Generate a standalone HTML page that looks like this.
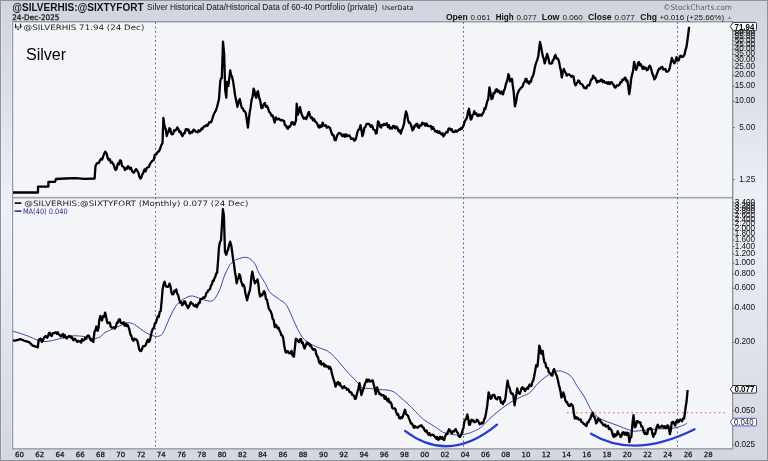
<!DOCTYPE html>
<html><head><meta charset="utf-8"><title>StockCharts</title>
<style>html,body{margin:0;padding:0;background:#dcdfe7;width:768px;height:461px;overflow:hidden}svg{display:block}</style>
</head><body>
<svg width="768" height="461" viewBox="0 0 768 461"><defs><linearGradient id="bg" x1="0" y1="0" x2="0" y2="1"><stop offset="0" stop-color="#d0d4de"/><stop offset="0.22" stop-color="#dde0e8"/><stop offset="0.44" stop-color="#eef0f7"/><stop offset="0.66" stop-color="#e3e7ef"/><stop offset="0.88" stop-color="#d8dce4"/><stop offset="1" stop-color="#d3d7e0"/></linearGradient></defs>
<rect x="0" y="0" width="768" height="461" fill="url(#bg)"/>
<rect x="0.5" y="0.5" width="767" height="460" fill="none" stroke="#8e939b" stroke-width="1"/>
<rect x="1" y="1" width="1" height="459" fill="#fff" fill-opacity="0.25"/><rect x="11" y="22" width="1" height="427" fill="#fff" fill-opacity="0.3"/>
<rect x="12" y="21" width="721" height="429" fill="#f4f5f9"/>
<rect x="12" y="21" width="721" height="1" fill="#979ba5"/>
<rect x="13" y="22" width="719" height="1" fill="#c8cbd3"/>
<rect x="12" y="21" width="1" height="429" fill="#9498a3"/>
<rect x="13" y="22" width="1" height="426" fill="#e0e3e8"/>
<rect x="732" y="21" width="1" height="429" fill="#8d919b"/>
<rect x="733" y="21" width="1" height="429" fill="#c5c9d1"/>
<rect x="12" y="448" width="721" height="1" fill="#a0a4ad"/>
<rect x="12" y="449" width="722" height="1" fill="#b5b9c2"/>
<rect x="13" y="196" width="719" height="1" fill="#e6e8ee"/>
<rect x="13" y="197" width="719" height="1" fill="#a3a6ae"/>
<rect x="13" y="198" width="719" height="1" fill="#c8cbd2"/>
<line x1="155.5" y1="22" x2="155.5" y2="448" stroke="#6060a6" stroke-width="1" stroke-dasharray="1.8,2.7"/>
<line x1="463.5" y1="22" x2="463.5" y2="448" stroke="#6060a6" stroke-width="1" stroke-dasharray="1.8,2.7"/>
<line x1="677.5" y1="22" x2="677.5" y2="448" stroke="#6060a6" stroke-width="1" stroke-dasharray="1.8,2.7"/>
<line x1="567" y1="412.6" x2="727" y2="412.6" stroke="#e27a82" stroke-width="1.2" stroke-dasharray="1.6,3"/>
<path d="M13.0,331.3 C14.2,331.6 17.7,332.5 20.4,333.4 C23.1,334.3 26.2,335.4 29.1,336.5 C32.0,337.6 35.2,339.4 37.8,340.3 C40.4,341.2 42.1,341.6 44.7,341.6 C47.3,341.6 50.5,340.9 53.4,340.3 C56.3,339.7 59.1,338.8 62.0,338.1 C64.9,337.4 67.9,336.4 70.8,336.0 C73.7,335.6 76.5,335.8 79.4,336.0 C82.3,336.2 85.8,336.8 88.1,337.2 C90.4,337.6 91.3,338.7 93.3,338.6 C95.3,338.6 98.3,337.9 100.3,336.9 C102.2,335.9 102.6,333.9 105.0,332.5 C107.4,331.1 111.5,329.7 114.8,328.2 C118.0,326.7 122.1,324.6 124.5,323.7 C126.9,322.8 127.4,322.4 129.4,322.7 C131.4,323.0 133.9,324.2 136.3,325.7 C138.8,327.2 141.5,329.9 144.1,331.5 C146.7,333.1 149.6,334.6 151.9,335.4 C154.2,336.2 155.9,336.7 157.7,336.4 C159.5,336.1 161.0,335.8 162.6,333.5 C164.2,331.2 165.9,326.3 167.5,322.7 C169.1,319.1 170.8,315.1 172.4,312.0 C174.0,308.9 175.5,306.3 177.3,304.2 C179.1,302.1 180.8,300.7 183.1,299.3 C185.4,297.9 188.6,296.3 190.9,296.0 C193.2,295.7 194.4,296.6 196.8,297.3 C199.2,298.0 202.7,299.8 205.4,300.3 C208.1,300.8 210.8,302.1 213.2,300.3 C215.6,298.6 218.0,293.5 219.7,289.8 C221.4,286.1 222.1,282.0 223.6,278.1 C225.1,274.2 227.2,269.3 228.9,266.4 C230.7,263.5 232.4,262.0 234.1,260.7 C235.8,259.4 237.6,259.2 239.3,258.6 C241.0,258.0 242.8,257.3 244.5,257.3 C246.2,257.3 248.0,257.5 249.7,258.6 C251.4,259.7 253.4,261.4 254.9,263.8 C256.4,266.2 257.1,269.6 258.8,272.9 C260.5,276.1 263.4,280.1 265.3,283.3 C267.2,286.6 267.6,289.7 270.0,292.4 C272.4,295.1 276.7,297.3 279.5,299.5 C282.3,301.7 284.3,301.9 286.7,305.5 C289.1,309.1 291.5,316.0 293.9,321.0 C296.3,326.0 298.6,331.7 301.0,335.3 C303.4,338.9 305.4,340.5 308.2,342.5 C311.0,344.5 314.5,345.9 317.7,347.3 C320.9,348.7 324.5,349.3 327.3,350.9 C330.1,352.5 332.0,354.4 334.4,356.8 C336.8,359.2 339.2,362.4 341.6,365.2 C344.0,368.0 346.4,370.9 348.8,373.5 C351.2,376.1 353.7,378.4 355.9,380.7 C358.1,383.0 359.5,386.1 361.9,387.4 C364.2,388.7 367.5,388.2 370.0,388.5 C372.5,388.8 373.6,389.0 376.7,389.3 C379.8,389.6 385.5,389.8 388.4,390.3 C391.3,390.8 392.3,391.1 394.3,392.2 C396.3,393.3 397.9,395.1 400.2,397.1 C402.5,399.1 405.4,401.6 408.0,404.0 C410.6,406.4 413.2,409.2 415.8,411.8 C418.4,414.4 421.0,417.5 423.6,419.6 C426.2,421.7 429.1,423.0 431.4,424.5 C433.7,426.0 435.4,427.1 437.3,428.4 C439.2,429.7 440.8,431.3 443.1,432.3 C445.4,433.3 448.3,433.7 450.9,434.2 C453.5,434.7 456.9,435.1 458.8,435.2 C460.7,435.3 460.1,435.2 462.0,434.8 C463.9,434.4 467.3,433.9 470.4,432.7 C473.5,431.5 477.8,429.7 480.8,427.5 C483.8,425.3 485.6,422.5 488.6,419.7 C491.6,416.9 495.1,413.6 499.0,410.6 C502.9,407.6 508.1,403.9 512.0,401.5 C515.9,399.1 519.4,397.8 522.4,396.3 C525.4,394.8 527.6,394.6 530.2,392.4 C532.8,390.2 535.4,385.9 538.0,383.3 C540.6,380.7 543.4,378.5 545.8,376.8 C548.2,375.1 550.1,373.9 552.3,372.9 C554.5,371.9 556.8,370.9 558.8,370.8 C560.8,370.7 562.3,371.5 564.0,372.1 C565.7,372.7 567.4,373.5 568.9,374.6 C570.4,375.7 571.5,376.7 572.8,378.5 C574.1,380.3 575.4,383.3 576.7,385.4 C578.0,387.5 579.3,389.2 580.6,391.2 C581.9,393.1 583.2,394.8 584.5,397.1 C585.8,399.4 587.1,402.5 588.4,404.9 C589.7,407.3 590.8,409.8 592.3,411.7 C593.8,413.6 595.2,415.1 597.2,416.6 C599.2,418.1 601.6,419.4 604.0,420.5 C606.4,421.6 609.2,422.4 611.8,423.4 C614.4,424.4 617.0,425.3 619.6,426.3 C622.2,427.3 625.1,428.5 627.4,429.3 C629.7,430.1 631.3,430.9 633.3,431.2 C635.2,431.4 636.8,431.0 639.1,430.8 C641.5,430.6 644.6,430.2 647.4,429.9 C650.2,429.6 653.1,429.2 656.0,429.0 C658.9,428.8 661.8,428.8 664.7,428.7 C667.6,428.6 670.8,428.6 673.4,428.2 C676.0,427.8 678.4,427.0 680.3,426.4 C682.2,425.8 683.5,425.3 684.7,424.7 C685.9,424.1 686.9,423.0 687.3,422.6" fill="none" stroke="#4646a2" stroke-width="1" stroke-linejoin="round"/>
<path d="M13.0,192.5 L38.0,192.5 L38.0,186.6 L48.4,186.6 L48.4,181.9 L55.0,181.9 L56.0,179.0 L65.0,178.5 L75.0,178.2 L85.0,178.8 L94.6,178.5 L95.5,166.0 L96.8,163.4 L98.0,163.0 L99.0,162.8 L100.0,160.3 L101.0,158.9 L102.0,159.6 L103.0,157.0 L104.1,153.8 L105.2,151.7 L106.1,152.8 L107.0,154.9 L107.8,158.4 L108.7,160.0 L109.8,159.1 L110.9,162.7 L112.0,162.0 L112.9,163.7 L113.8,164.9 L114.7,168.2 L115.6,170.0 L116.7,168.5 L117.8,163.5 L118.9,164.4 L120.0,160.3 L121.0,160.8 L122.0,165.9 L123.0,166.5 L124.0,167.5 L125.0,170.0 L125.9,168.2 L126.8,168.9 L127.7,166.5 L128.6,166.4 L129.7,169.0 L130.9,167.7 L132.0,170.8 L133.1,172.5 L134.1,172.6 L135.2,170.3 L136.2,169.1 L137.3,170.8 L138.3,172.3 L139.3,176.5 L140.3,178.6 L141.3,177.7 L142.4,174.2 L143.4,172.5 L144.5,169.4 L145.6,171.4 L146.6,168.2 L147.7,167.3 L148.8,167.2 L149.8,164.5 L150.9,162.5 L152.0,161.2 L152.9,160.4 L153.8,159.9 L154.7,154.8 L155.6,155.0 L156.7,153.8 L157.8,151.7 L158.9,151.4 L160.0,149.0 L161.2,145.6 L162.5,143.0 L163.4,117.8 L164.2,124.2 L165.0,127.4 L165.9,130.0 L166.8,136.0 L167.7,132.6 L168.5,131.8 L169.4,128.2 L170.3,129.1 L171.1,133.5 L172.0,134.3 L173.1,133.9 L174.1,130.2 L175.2,130.8 L176.2,129.8 L177.3,127.4 L178.3,128.9 L179.4,132.0 L180.4,131.4 L181.5,134.6 L182.5,136.0 L183.6,133.3 L184.7,133.3 L185.7,129.4 L186.8,129.0 L187.7,130.4 L188.6,129.5 L189.4,133.2 L190.3,133.4 L191.4,131.8 L192.4,132.4 L193.5,129.7 L194.6,130.0 L195.6,131.6 L196.6,131.8 L197.6,132.3 L198.6,130.2 L199.6,131.4 L200.5,130.7 L201.5,128.5 L202.5,129.0 L203.4,127.1 L204.4,126.2 L205.4,126.4 L206.3,125.0 L207.3,125.8 L208.2,124.5 L209.2,122.2 L210.1,122.2 L211.1,122.3 L212.0,119.8 L212.9,116.9 L213.9,114.0 L214.9,112.2 L215.8,110.7 L216.9,107.5 L217.9,103.5 L219.0,99.0 L220.3,80.8 L221.1,78.5 L221.8,78.0 L223.0,41.7 L224.2,54.7 L225.2,90.0 L226.3,97.7 L227.0,82.0 L228.3,86.0 L229.2,79.1 L230.2,70.4 L231.1,75.1 L232.1,77.1 L233.1,81.3 L234.0,87.3 L235.1,95.5 L236.3,100.9 L237.4,106.8 L238.6,101.4 L239.8,99.0 L240.9,104.5 L241.9,108.0 L242.9,108.6 L243.9,111.0 L244.8,111.3 L245.8,113.3 L246.9,120.2 L247.9,127.7 L248.8,119.8 L249.6,112.9 L250.5,108.0 L251.5,100.4 L252.6,96.5 L253.6,88.6 L254.5,91.0 L255.3,95.7 L256.2,97.7 L257.1,92.7 L258.0,91.2 L259.1,97.5 L260.3,100.8 L261.4,108.0 L262.5,107.8 L263.7,104.2 L264.8,103.0 L265.9,106.8 L267.0,106.0 L268.1,108.3 L269.2,112.0 L270.3,112.9 L271.5,115.8 L272.6,115.4 L273.6,118.4 L274.6,122.6 L275.9,117.3 L276.9,119.3 L277.8,119.3 L278.8,118.6 L279.9,119.6 L280.9,120.5 L282.0,120.0 L283.0,120.6 L284.0,120.8 L284.9,125.2 L285.9,125.3 L286.9,127.8 L287.8,128.8 L288.6,126.6 L289.5,127.1 L290.5,125.6 L291.5,122.6 L292.6,122.1 L293.6,124.7 L294.7,124.5 L296.0,120.0 L296.7,103.7 L298.0,114.7 L299.0,110.4 L300.0,107.0 L300.9,112.0 L301.9,114.7 L302.8,116.8 L303.6,118.5 L304.5,118.6 L305.4,117.4 L306.2,119.1 L307.1,117.3 L308.1,113.3 L309.0,112.0 L310.0,115.6 L311.0,118.0 L312.0,117.5 L313.0,120.5 L314.0,118.9 L315.0,121.3 L316.1,122.2 L317.1,123.3 L318.2,126.5 L319.1,127.6 L319.9,125.4 L320.8,127.1 L321.8,126.5 L322.7,122.6 L323.7,125.5 L324.7,125.8 L325.7,125.1 L326.8,127.7 L327.8,126.6 L328.9,127.1 L329.9,127.8 L330.8,130.6 L331.6,133.1 L332.5,135.0 L333.6,135.2 L334.7,140.0 L335.8,140.1 L336.9,136.2 L337.9,134.2 L339.0,133.0 L340.0,133.5 L340.9,133.6 L341.9,135.8 L342.9,136.2 L343.9,134.4 L345.0,136.7 L346.0,134.3 L347.1,136.2 L348.1,135.6 L349.1,135.2 L350.1,136.4 L351.0,138.8 L352.0,138.8 L353.1,138.4 L354.2,140.7 L355.3,140.1 L356.2,137.4 L357.2,133.0 L358.3,129.9 L359.4,129.2 L360.5,125.2 L361.4,129.7 L362.4,136.2 L363.4,133.2 L364.4,127.8 L365.5,126.9 L366.6,123.8 L367.7,123.9 L368.9,123.8 L370.0,125.8 L370.8,126.9 L371.5,125.2 L372.4,126.1 L373.2,129.3 L374.1,129.7 L375.0,130.2 L375.8,133.6 L376.7,133.0 L378.0,121.3 L379.0,122.6 L380.0,126.5 L381.0,127.6 L381.9,125.0 L382.9,125.4 L383.9,124.0 L384.8,125.1 L385.8,123.9 L386.8,123.2 L387.9,127.2 L388.9,125.1 L390.0,128.6 L391.0,127.8 L392.1,128.6 L393.1,125.9 L394.2,126.2 L395.2,128.5 L396.3,126.5 L397.4,127.7 L398.6,131.4 L399.7,130.1 L400.8,133.6 L401.9,129.8 L402.9,127.7 L404.0,123.9 L405.0,116.4 L406.0,111.5 L407.0,114.1 L408.0,120.0 L409.0,122.9 L410.0,122.6 L411.2,125.6 L412.5,130.4 L413.5,129.1 L414.4,125.6 L415.4,126.3 L416.4,123.9 L417.3,123.9 L418.1,127.2 L419.0,127.8 L420.1,125.1 L421.2,125.5 L422.3,122.6 L423.3,124.1 L424.4,123.5 L425.4,125.8 L426.5,123.5 L427.5,125.8 L428.6,126.0 L429.7,126.1 L430.8,126.0 L431.8,129.2 L432.9,127.0 L434.0,129.0 L435.1,131.2 L436.2,131.8 L437.2,130.9 L438.3,132.8 L439.4,131.5 L440.5,133.6 L441.5,134.4 L442.4,133.1 L443.4,136.3 L444.4,135.0 L445.4,133.3 L446.5,131.9 L447.5,132.4 L448.6,128.6 L449.6,128.4 L450.6,130.0 L451.7,129.2 L452.7,131.7 L453.8,132.1 L454.8,131.7 L455.8,130.5 L456.9,131.7 L457.9,130.8 L459.0,129.5 L460.0,129.7 L460.9,128.1 L461.8,128.8 L462.7,127.1 L463.6,125.5 L464.8,121.1 L466.0,119.5 L467.0,117.5 L468.0,111.7 L469.0,108.8 L469.9,114.5 L470.7,119.5 L471.6,118.8 L472.5,114.8 L473.4,114.6 L474.3,111.1 L475.2,113.7 L476.1,113.1 L477.0,115.3 L477.9,116.0 L478.9,114.4 L479.8,115.6 L480.8,114.7 L481.7,115.6 L482.7,113.5 L483.6,112.2 L484.5,108.2 L485.4,109.0 L486.3,105.2 L487.2,101.5 L488.2,99.2 L489.4,87.3 L490.4,92.3 L491.5,99.2 L492.6,98.2 L493.6,93.0 L494.7,93.1 L495.8,89.7 L496.7,89.3 L497.6,91.9 L498.5,90.4 L499.4,92.0 L500.3,93.5 L501.2,91.5 L502.1,93.4 L503.0,94.4 L503.9,90.2 L504.8,89.2 L505.6,85.2 L506.5,82.5 L507.4,80.0 L508.4,74.2 L509.2,76.2 L510.1,81.3 L511.1,80.5 L512.0,78.9 L512.9,86.6 L513.7,92.0 L514.9,106.4 L516.1,101.7 L517.3,94.4 L518.2,92.2 L519.2,89.9 L520.1,89.2 L521.1,87.7 L522.0,87.3 L522.9,85.5 L523.8,82.6 L524.7,82.0 L525.6,78.9 L526.5,79.0 L527.4,82.5 L528.3,81.6 L529.2,83.7 L530.1,81.1 L531.0,81.7 L531.9,77.5 L532.8,76.5 L533.8,73.2 L534.9,67.2 L535.9,63.4 L537.1,60.4 L538.3,56.3 L539.1,49.5 L540.0,41.9 L541.0,46.2 L541.9,51.5 L542.8,55.9 L543.8,59.0 L544.7,63.4 L545.9,59.0 L547.1,53.9 L548.3,57.7 L549.5,63.4 L550.7,63.6 L551.9,63.4 L552.8,60.4 L553.7,59.5 L554.6,56.3 L555.5,55.0 L556.6,58.7 L557.8,58.6 L558.9,61.0 L559.9,66.4 L560.9,70.8 L561.8,77.6 L562.8,72.4 L563.8,68.8 L564.8,71.4 L565.7,72.8 L566.7,75.7 L567.7,74.4 L568.6,74.4 L569.6,74.7 L570.6,75.8 L571.6,76.9 L572.6,75.8 L573.6,76.6 L574.5,82.8 L575.5,85.4 L576.5,83.6 L577.4,82.5 L578.4,80.5 L579.4,81.2 L580.3,83.7 L581.3,84.0 L582.3,84.5 L583.3,86.4 L584.3,88.1 L585.3,87.7 L586.3,88.4 L587.3,85.8 L588.2,85.1 L589.2,85.5 L590.2,82.5 L591.2,79.4 L592.1,79.3 L593.1,75.7 L594.1,77.9 L595.0,77.7 L596.0,79.7 L597.0,82.5 L598.0,81.0 L599.0,81.6 L599.9,81.3 L600.9,79.6 L601.9,79.9 L602.8,82.2 L603.8,81.0 L604.8,82.5 L605.8,82.9 L606.8,82.3 L607.8,83.9 L608.7,82.1 L609.7,84.0 L610.7,82.5 L611.7,82.1 L612.7,84.0 L613.6,84.8 L614.6,87.4 L615.6,87.6 L616.6,85.4 L617.5,85.3 L618.5,85.5 L619.5,84.5 L620.5,82.1 L621.4,82.4 L622.4,79.7 L623.3,80.0 L624.3,78.6 L625.3,77.5 L626.3,81.0 L627.3,80.5 L628.2,85.9 L629.2,94.2 L630.2,87.9 L631.2,78.6 L632.2,74.2 L633.1,70.8 L634.1,62.0 L635.1,66.2 L636.1,69.8 L637.1,67.6 L638.0,62.9 L639.0,62.0 L640.0,65.3 L640.9,64.3 L641.9,66.9 L642.8,69.0 L643.7,66.8 L644.6,68.6 L645.7,67.8 L646.8,70.2 L647.8,69.8 L648.9,66.8 L649.9,65.6 L651.0,68.2 L652.2,73.2 L653.3,75.7 L654.4,79.3 L655.5,77.9 L656.7,74.7 L657.9,71.3 L659.0,68.6 L660.1,68.8 L661.3,67.1 L662.3,66.8 L663.3,69.5 L664.3,69.4 L665.3,69.0 L666.4,71.7 L667.4,71.7 L668.5,70.9 L669.6,68.6 L670.8,63.0 L671.9,58.0 L673.0,61.1 L674.2,63.3 L675.4,61.6 L676.5,57.2 L677.6,60.5 L678.8,60.3 L679.9,56.3 L681.0,55.7 L682.1,57.0 L683.3,56.5 L684.5,54.7 L685.6,49.6 L686.4,47.2 L687.1,42.8 L688.3,33.7 L689.1,26.8" fill="none" stroke="#000" stroke-width="2.3" stroke-linejoin="round"/>
<path d="M13.0,340.3 L15.2,340.7 L20.4,339.1 L25.6,341.2 L29.1,342.1 L32.6,345.6 L35.2,346.4 L37.8,347.3 L38.6,340.3 L39.7,338.9 L40.8,338.6 L41.9,342.0 L43.0,340.3 L43.9,337.7 L44.7,336.9 L45.6,335.9 L46.4,337.1 L47.3,337.7 L48.1,335.9 L49.0,333.0 L49.9,332.9 L50.8,335.5 L51.7,336.0 L52.8,333.2 L54.0,333.2 L55.1,332.5 L56.0,332.5 L56.9,333.8 L57.7,332.3 L58.6,334.3 L59.7,335.1 L60.9,336.4 L62.0,335.1 L62.9,333.9 L63.8,337.4 L64.7,335.0 L65.6,337.2 L66.7,338.5 L67.9,337.1 L69.0,336.0 L69.9,336.2 L70.8,337.6 L71.6,336.8 L72.5,338.6 L73.4,340.3 L74.2,338.8 L75.1,338.9 L76.0,340.3 L77.1,341.7 L78.3,340.9 L79.4,341.7 L80.3,341.1 L81.2,342.6 L82.0,339.2 L82.9,340.3 L84.0,340.4 L85.1,337.9 L86.2,338.8 L87.3,336.0 L88.2,335.5 L89.0,336.0 L89.9,338.6 L91.0,340.5 L92.2,339.4 L93.3,342.0 L94.5,331.7 L95.4,330.5 L96.3,326.5 L97.7,330.8 L98.6,327.4 L99.4,319.2 L100.3,316.0 L101.2,318.9 L102.0,320.4 L103.0,316.1 L104.1,316.9 L105.1,312.6 L106.2,317.0 L107.2,322.7 L108.1,323.2 L109.0,322.3 L109.9,322.7 L110.8,326.9 L111.8,327.6 L112.8,327.7 L113.8,327.2 L114.8,328.6 L115.8,327.0 L116.8,322.7 L117.7,322.9 L118.7,319.8 L119.7,319.1 L120.7,322.7 L121.6,323.1 L122.6,323.7 L123.6,322.2 L124.6,325.6 L125.5,323.4 L126.5,326.1 L127.5,324.7 L128.5,327.0 L129.4,329.7 L130.4,334.5 L131.4,336.0 L132.3,339.3 L133.3,340.7 L134.3,338.6 L135.3,339.7 L136.3,339.3 L137.3,340.8 L138.2,344.6 L139.2,349.1 L140.1,350.8 L141.1,351.0 L142.1,348.8 L143.1,346.2 L144.1,346.2 L145.1,346.0 L146.0,344.2 L147.0,341.3 L148.0,339.6 L148.9,342.0 L149.9,340.3 L150.9,335.4 L151.9,331.2 L152.9,328.6 L153.9,328.1 L154.9,323.1 L155.8,323.1 L156.8,319.8 L157.8,316.3 L158.8,316.9 L159.7,311.7 L160.7,311.0 L161.6,301.5 L162.6,289.5 L163.6,284.1 L164.6,281.7 L165.6,285.7 L166.5,286.6 L167.5,286.9 L168.5,286.4 L169.5,283.7 L170.5,286.2 L171.4,292.4 L172.4,294.4 L173.4,294.1 L174.4,290.6 L175.3,291.2 L176.3,289.5 L177.3,293.9 L178.2,295.2 L179.2,299.3 L180.2,302.7 L181.1,301.9 L182.1,305.2 L183.1,304.4 L184.1,301.4 L185.1,301.3 L186.1,304.9 L187.0,305.6 L188.0,308.1 L189.0,306.7 L189.9,303.8 L190.9,302.2 L191.9,303.7 L192.9,303.9 L193.8,305.9 L194.8,306.1 L195.7,304.8 L196.7,307.3 L197.6,305.5 L198.6,303.0 L199.6,303.1 L200.5,299.1 L201.5,299.0 L202.5,298.6 L203.4,297.3 L204.4,297.8 L205.4,296.4 L206.4,293.0 L207.4,292.2 L208.3,290.2 L209.3,289.8 L210.2,288.5 L211.0,285.2 L211.9,284.6 L212.8,280.7 L213.6,281.0 L214.5,278.1 L215.4,276.6 L216.2,273.5 L217.1,272.9 L218.1,260.3 L219.0,246.9 L220.0,242.0 L221.0,240.4 L221.9,225.6 L222.9,209.1 L223.9,215.6 L225.0,252.0 L226.3,254.7 L227.2,251.4 L228.1,249.5 L229.1,244.8 L230.2,241.7 L231.2,245.2 L232.2,252.0 L233.1,259.2 L234.1,265.1 L235.0,272.2 L235.8,276.5 L236.7,283.3 L237.6,279.3 L238.4,278.2 L239.3,274.2 L240.2,276.0 L241.0,280.9 L241.9,283.3 L242.8,286.1 L243.6,284.8 L244.5,287.2 L245.4,293.3 L246.2,296.5 L247.1,300.3 L248.0,296.8 L248.8,293.5 L249.7,291.1 L250.6,285.6 L251.4,276.9 L252.3,271.6 L253.2,275.9 L254.0,280.1 L254.9,283.3 L255.8,281.3 L256.6,281.7 L257.5,279.4 L258.4,284.3 L259.2,291.9 L260.1,296.4 L261.1,294.5 L262.1,295.4 L263.0,293.5 L264.0,291.1 L265.0,292.9 L265.9,298.8 L266.9,299.7 L267.9,304.2 L268.9,308.9 L270.0,310.3 L270.9,311.8 L271.8,314.5 L272.7,319.0 L273.6,319.8 L274.8,327.0 L275.8,324.9 L276.7,325.8 L277.6,328.3 L278.6,327.6 L279.5,330.6 L280.4,331.9 L281.3,335.2 L282.2,335.2 L283.1,337.7 L284.3,346.0 L285.5,352.0 L286.4,352.6 L287.3,351.1 L288.2,351.6 L289.1,353.2 L290.3,353.4 L291.5,350.9 L292.7,355.6 L293.9,356.8 L294.9,347.6 L295.8,338.9 L297.0,339.5 L298.2,341.3 L299.1,342.2 L300.1,339.3 L301.0,338.9 L301.9,343.0 L302.8,342.5 L303.7,346.6 L304.6,348.5 L305.8,345.2 L307.0,342.5 L307.9,343.9 L308.8,343.4 L309.7,345.7 L310.6,344.9 L311.8,347.7 L313.0,349.7 L314.1,349.0 L315.3,349.7 L316.2,353.7 L317.1,356.4 L318.0,357.3 L318.9,361.6 L319.8,363.4 L320.7,361.1 L321.6,364.6 L322.5,364.0 L323.5,363.4 L324.4,366.4 L325.4,365.0 L326.3,366.7 L327.3,366.4 L328.2,366.5 L329.1,368.8 L330.0,366.9 L330.9,368.8 L332.0,373.9 L333.2,378.3 L334.4,381.9 L335.6,386.7 L336.8,383.3 L338.0,381.9 L338.9,384.6 L339.8,382.9 L340.7,385.9 L341.6,386.7 L342.5,388.3 L343.4,386.9 L344.3,386.3 L345.2,387.9 L346.1,388.1 L347.0,389.8 L347.9,388.9 L348.8,390.2 L349.7,392.2 L350.6,392.2 L351.4,392.6 L352.3,395.0 L353.2,395.0 L354.1,395.8 L355.0,398.8 L355.9,398.6 L357.1,393.0 L358.3,389.0 L359.5,383.1 L360.4,389.3 L361.4,395.0 L362.6,391.2 L363.8,387.9 L364.8,384.1 L365.7,382.1 L366.7,379.5 L367.8,381.6 L368.8,379.6 L369.8,381.4 L370.9,381.5 L371.9,380.5 L372.8,380.5 L373.8,385.2 L374.8,388.3 L375.7,394.2 L377.1,387.3 L378.4,391.2 L379.6,394.2 L380.6,393.9 L381.6,395.5 L382.6,395.2 L383.6,395.2 L384.6,398.8 L385.5,396.4 L386.5,399.1 L387.5,401.1 L388.4,398.8 L389.4,402.5 L390.4,402.0 L391.4,403.7 L392.3,407.9 L393.3,408.7 L394.3,408.3 L395.3,408.8 L396.2,412.1 L397.2,414.7 L398.2,414.2 L399.2,418.0 L400.2,418.6 L401.2,417.0 L402.1,418.0 L403.1,415.7 L404.1,412.2 L405.0,409.8 L406.0,414.0 L407.0,414.7 L408.0,415.7 L408.9,418.4 L409.9,420.5 L410.9,423.6 L411.9,423.5 L412.9,425.4 L413.9,427.9 L414.8,426.0 L415.8,427.4 L416.8,427.4 L417.7,427.7 L418.7,426.4 L419.7,426.4 L420.6,425.5 L421.6,425.4 L422.6,427.3 L423.6,427.8 L424.6,430.3 L425.6,431.5 L426.5,430.5 L427.5,433.2 L428.5,434.7 L429.4,433.1 L430.4,435.4 L431.4,435.2 L432.4,434.6 L433.4,435.0 L434.3,436.1 L435.3,437.1 L436.3,438.7 L437.2,437.0 L438.2,439.8 L439.2,439.1 L440.2,436.8 L441.1,438.7 L442.1,437.1 L443.1,439.2 L444.1,440.1 L445.1,436.5 L446.1,434.2 L447.1,434.0 L448.0,431.6 L449.0,429.3 L450.0,430.3 L450.9,432.2 L451.9,433.2 L452.9,431.1 L453.9,431.5 L454.8,430.0 L455.8,429.3 L456.8,431.9 L457.8,432.8 L458.7,435.9 L459.7,437.1 L460.7,435.9 L461.6,433.7 L462.6,430.1 L463.5,427.8 L464.3,421.7 L465.2,419.7 L466.2,418.8 L467.3,414.5 L468.2,418.4 L469.1,424.9 L470.0,424.7 L470.8,421.0 L471.7,419.7 L472.6,421.0 L473.4,420.2 L474.3,422.3 L475.2,421.7 L476.0,421.7 L476.9,419.7 L477.9,420.4 L478.9,422.4 L479.8,424.3 L480.8,423.6 L481.7,422.6 L482.5,423.5 L483.4,422.3 L484.3,419.0 L485.1,417.8 L486.0,413.2 L487.3,405.4 L488.6,392.4 L489.6,395.3 L490.7,398.9 L491.6,398.1 L492.4,395.4 L493.3,395.0 L494.3,394.8 L495.4,398.3 L496.4,398.9 L497.3,399.4 L498.1,397.1 L499.0,397.6 L500.0,397.5 L500.9,402.6 L501.9,402.1 L502.9,404.1 L503.8,401.1 L504.6,401.5 L505.5,397.6 L506.6,388.0 L507.6,380.7 L508.6,386.2 L509.7,388.0 L510.7,392.4 L511.6,393.8 L512.4,393.4 L513.3,395.0 L514.6,405.4 L515.5,399.2 L516.3,394.7 L517.2,388.5 L518.1,391.8 L518.9,393.2 L519.8,393.7 L520.7,391.1 L521.5,388.4 L522.4,387.2 L523.3,389.0 L524.1,388.5 L525.0,391.1 L526.0,389.3 L527.0,387.8 L527.9,388.8 L528.9,385.9 L529.8,384.4 L530.6,386.1 L531.5,385.9 L532.4,381.7 L533.2,380.7 L534.1,376.8 L535.2,370.7 L536.2,365.1 L537.5,366.4 L538.4,356.8 L539.3,345.6 L540.2,348.2 L541.1,353.4 L541.9,353.9 L542.7,350.8 L543.6,358.3 L544.5,362.5 L545.4,363.0 L546.2,367.4 L547.1,367.7 L548.0,368.3 L548.8,372.2 L549.7,372.9 L550.6,373.4 L551.4,375.4 L552.3,375.5 L553.2,370.8 L554.1,369.0 L555.0,371.9 L555.8,374.0 L556.7,375.5 L557.8,379.7 L558.8,384.6 L559.7,387.7 L560.5,391.6 L561.4,397.6 L562.3,396.5 L563.3,392.4 L564.3,395.1 L565.3,400.2 L566.1,402.1 L567.0,402.0 L568.0,404.5 L568.9,405.9 L569.9,406.0 L570.9,403.9 L571.8,404.7 L572.8,405.9 L573.8,412.7 L574.8,418.5 L575.8,416.9 L576.7,418.5 L577.7,417.7 L578.6,419.5 L579.6,419.5 L580.6,419.4 L581.6,422.2 L582.6,422.4 L583.6,423.9 L584.5,423.8 L585.5,425.4 L586.5,426.0 L587.4,422.2 L588.4,422.4 L589.4,419.6 L590.3,419.0 L591.3,415.6 L592.7,412.7 L593.5,416.3 L594.3,416.6 L595.2,419.1 L596.2,423.4 L597.2,422.0 L598.2,418.5 L599.2,420.5 L600.1,419.9 L601.1,422.4 L602.1,422.9 L603.0,424.8 L604.0,425.4 L605.0,424.5 L606.0,426.5 L607.0,426.3 L608.0,425.7 L608.9,429.0 L609.9,428.3 L610.9,429.6 L611.8,431.1 L612.8,435.1 L613.8,437.0 L614.7,434.1 L615.7,436.1 L616.7,435.0 L617.7,431.2 L618.7,434.1 L619.6,434.6 L620.6,437.1 L621.6,435.8 L622.5,432.6 L623.5,432.2 L624.5,434.6 L625.5,432.6 L626.5,435.1 L627.5,432.8 L628.4,433.2 L629.4,442.0 L630.3,437.8 L631.3,437.1 L632.6,422.1 L633.5,415.1 L634.9,427.3 L635.9,426.0 L636.9,421.2 L637.8,421.1 L638.6,422.3 L639.5,422.1 L640.4,422.6 L641.3,426.4 L642.2,426.4 L643.0,428.6 L643.9,432.5 L644.8,433.9 L645.6,432.5 L646.5,434.2 L647.4,433.8 L648.2,429.0 L649.1,429.0 L650.0,428.3 L650.8,428.2 L651.7,429.7 L652.5,434.3 L653.4,436.8 L654.3,433.7 L655.1,433.9 L656.0,429.9 L656.9,426.6 L657.8,424.7 L658.7,426.9 L659.5,427.6 L660.4,427.3 L661.3,426.3 L662.1,425.7 L663.0,426.4 L663.9,427.9 L664.7,426.3 L665.6,428.2 L666.5,428.0 L667.3,425.5 L668.2,425.6 L669.0,428.8 L669.9,434.2 L670.8,430.3 L671.7,423.0 L672.5,421.8 L673.4,422.1 L674.2,423.6 L675.1,425.6 L676.0,422.2 L676.9,420.3 L677.8,421.8 L678.6,422.1 L679.5,420.0 L680.3,419.5 L681.2,420.6 L682.1,421.2 L683.2,418.1 L684.2,418.6 L685.6,407.3 L686.6,401.3 L687.6,390.0" fill="none" stroke="#000" stroke-width="2.3" stroke-linejoin="round"/>
<path d="M405,430.8 Q449,464.5 497,424.7" fill="none" stroke="#2b3bd2" stroke-width="2.2" stroke-linecap="round"/>
<path d="M591,433.7 Q634,459.5 694.6,429.2" fill="none" stroke="#2b3bd2" stroke-width="2.2" stroke-linecap="round"/>
<line x1="732" y1="31.0" x2="735" y2="31.0" stroke="#6c7078" stroke-width="0.8"/>
<text x="755.2" y="33.0" text-anchor="end" font-family="'Liberation Sans', Arial, sans-serif" font-size="8.2" fill="#111">65.00</text>
<line x1="732" y1="34.1" x2="735" y2="34.1" stroke="#6c7078" stroke-width="0.8"/>
<text x="755.2" y="36.1" text-anchor="end" font-family="'Liberation Sans', Arial, sans-serif" font-size="8.2" fill="#111">60.00</text>
<line x1="732" y1="37.3" x2="735" y2="37.3" stroke="#6c7078" stroke-width="0.8"/>
<text x="755.2" y="39.3" text-anchor="end" font-family="'Liberation Sans', Arial, sans-serif" font-size="8.2" fill="#111">55.00</text>
<line x1="732" y1="40.9" x2="735" y2="40.9" stroke="#6c7078" stroke-width="0.8"/>
<text x="755.2" y="42.9" text-anchor="end" font-family="'Liberation Sans', Arial, sans-serif" font-size="8.2" fill="#111">50.00</text>
<line x1="732" y1="44.9" x2="735" y2="44.9" stroke="#6c7078" stroke-width="0.8"/>
<text x="755.2" y="46.9" text-anchor="end" font-family="'Liberation Sans', Arial, sans-serif" font-size="8.2" fill="#111">45.00</text>
<line x1="732" y1="49.3" x2="735" y2="49.3" stroke="#6c7078" stroke-width="0.8"/>
<text x="755.2" y="51.3" text-anchor="end" font-family="'Liberation Sans', Arial, sans-serif" font-size="8.2" fill="#111">40.00</text>
<line x1="732" y1="54.3" x2="735" y2="54.3" stroke="#6c7078" stroke-width="0.8"/>
<text x="755.2" y="56.3" text-anchor="end" font-family="'Liberation Sans', Arial, sans-serif" font-size="8.2" fill="#111">35.00</text>
<line x1="732" y1="60.1" x2="735" y2="60.1" stroke="#6c7078" stroke-width="0.8"/>
<text x="755.2" y="62.1" text-anchor="end" font-family="'Liberation Sans', Arial, sans-serif" font-size="8.2" fill="#111">30.00</text>
<line x1="732" y1="67.0" x2="735" y2="67.0" stroke="#6c7078" stroke-width="0.8"/>
<text x="755.2" y="69.0" text-anchor="end" font-family="'Liberation Sans', Arial, sans-serif" font-size="8.2" fill="#111">25.00</text>
<line x1="732" y1="75.4" x2="735" y2="75.4" stroke="#6c7078" stroke-width="0.8"/>
<text x="755.2" y="77.4" text-anchor="end" font-family="'Liberation Sans', Arial, sans-serif" font-size="8.2" fill="#111">20.00</text>
<line x1="732" y1="86.2" x2="735" y2="86.2" stroke="#6c7078" stroke-width="0.8"/>
<text x="755.2" y="88.2" text-anchor="end" font-family="'Liberation Sans', Arial, sans-serif" font-size="8.2" fill="#111">15.00</text>
<line x1="732" y1="101.4" x2="735" y2="101.4" stroke="#6c7078" stroke-width="0.8"/>
<text x="755.2" y="103.4" text-anchor="end" font-family="'Liberation Sans', Arial, sans-serif" font-size="8.2" fill="#111">10.00</text>
<line x1="732" y1="127.5" x2="735" y2="127.5" stroke="#6c7078" stroke-width="0.8"/>
<text x="755.2" y="129.5" text-anchor="end" font-family="'Liberation Sans', Arial, sans-serif" font-size="8.2" fill="#111">5.00</text>
<line x1="732" y1="179.6" x2="735" y2="179.6" stroke="#6c7078" stroke-width="0.8"/>
<text x="755.2" y="181.6" text-anchor="end" font-family="'Liberation Sans', Arial, sans-serif" font-size="8.2" fill="#111">1.25</text>
<line x1="732" y1="202.8" x2="735" y2="202.8" stroke="#6c7078" stroke-width="0.8"/>
<text x="755.2" y="204.8" text-anchor="end" font-family="'Liberation Sans', Arial, sans-serif" font-size="8.2" fill="#111">3.400</text>
<line x1="732" y1="205.8" x2="735" y2="205.8" stroke="#6c7078" stroke-width="0.8"/>
<text x="755.2" y="207.8" text-anchor="end" font-family="'Liberation Sans', Arial, sans-serif" font-size="8.2" fill="#111">3.200</text>
<line x1="732" y1="209.0" x2="735" y2="209.0" stroke="#6c7078" stroke-width="0.8"/>
<text x="755.2" y="211.0" text-anchor="end" font-family="'Liberation Sans', Arial, sans-serif" font-size="8.2" fill="#111">3.000</text>
<line x1="732" y1="212.4" x2="735" y2="212.4" stroke="#6c7078" stroke-width="0.8"/>
<text x="755.2" y="214.4" text-anchor="end" font-family="'Liberation Sans', Arial, sans-serif" font-size="8.2" fill="#111">2.800</text>
<line x1="732" y1="216.0" x2="735" y2="216.0" stroke="#6c7078" stroke-width="0.8"/>
<text x="755.2" y="218.0" text-anchor="end" font-family="'Liberation Sans', Arial, sans-serif" font-size="8.2" fill="#111">2.600</text>
<line x1="732" y1="220.0" x2="735" y2="220.0" stroke="#6c7078" stroke-width="0.8"/>
<text x="755.2" y="222.0" text-anchor="end" font-family="'Liberation Sans', Arial, sans-serif" font-size="8.2" fill="#111">2.400</text>
<line x1="732" y1="224.3" x2="735" y2="224.3" stroke="#6c7078" stroke-width="0.8"/>
<text x="755.2" y="226.3" text-anchor="end" font-family="'Liberation Sans', Arial, sans-serif" font-size="8.2" fill="#111">2.200</text>
<line x1="732" y1="229.0" x2="735" y2="229.0" stroke="#6c7078" stroke-width="0.8"/>
<text x="755.2" y="231.0" text-anchor="end" font-family="'Liberation Sans', Arial, sans-serif" font-size="8.2" fill="#111">2.000</text>
<line x1="732" y1="234.2" x2="735" y2="234.2" stroke="#6c7078" stroke-width="0.8"/>
<text x="755.2" y="236.2" text-anchor="end" font-family="'Liberation Sans', Arial, sans-serif" font-size="8.2" fill="#111">1.800</text>
<line x1="732" y1="240.0" x2="735" y2="240.0" stroke="#6c7078" stroke-width="0.8"/>
<text x="755.2" y="242.0" text-anchor="end" font-family="'Liberation Sans', Arial, sans-serif" font-size="8.2" fill="#111">1.600</text>
<line x1="732" y1="246.5" x2="735" y2="246.5" stroke="#6c7078" stroke-width="0.8"/>
<text x="755.2" y="248.5" text-anchor="end" font-family="'Liberation Sans', Arial, sans-serif" font-size="8.2" fill="#111">1.400</text>
<line x1="732" y1="254.1" x2="735" y2="254.1" stroke="#6c7078" stroke-width="0.8"/>
<text x="755.2" y="256.1" text-anchor="end" font-family="'Liberation Sans', Arial, sans-serif" font-size="8.2" fill="#111">1.200</text>
<line x1="732" y1="263.1" x2="735" y2="263.1" stroke="#6c7078" stroke-width="0.8"/>
<text x="755.2" y="265.1" text-anchor="end" font-family="'Liberation Sans', Arial, sans-serif" font-size="8.2" fill="#111">1.000</text>
<line x1="732" y1="274.1" x2="735" y2="274.1" stroke="#6c7078" stroke-width="0.8"/>
<text x="755.2" y="276.1" text-anchor="end" font-family="'Liberation Sans', Arial, sans-serif" font-size="8.2" fill="#111">0.800</text>
<line x1="732" y1="288.3" x2="735" y2="288.3" stroke="#6c7078" stroke-width="0.8"/>
<text x="755.2" y="290.3" text-anchor="end" font-family="'Liberation Sans', Arial, sans-serif" font-size="8.2" fill="#111">0.600</text>
<line x1="732" y1="308.2" x2="735" y2="308.2" stroke="#6c7078" stroke-width="0.8"/>
<text x="755.2" y="310.2" text-anchor="end" font-family="'Liberation Sans', Arial, sans-serif" font-size="8.2" fill="#111">0.400</text>
<line x1="732" y1="342.4" x2="735" y2="342.4" stroke="#6c7078" stroke-width="0.8"/>
<text x="755.2" y="344.4" text-anchor="end" font-family="'Liberation Sans', Arial, sans-serif" font-size="8.2" fill="#111">0.200</text>
<line x1="732" y1="410.6" x2="735" y2="410.6" stroke="#6c7078" stroke-width="0.8"/>
<text x="755.2" y="412.6" text-anchor="end" font-family="'Liberation Sans', Arial, sans-serif" font-size="8.2" fill="#111">0.050</text>
<line x1="732" y1="444.8" x2="735" y2="444.8" stroke="#6c7078" stroke-width="0.8"/>
<text x="755.2" y="446.8" text-anchor="end" font-family="'Liberation Sans', Arial, sans-serif" font-size="8.2" fill="#111">0.025</text>
<path d="M730.3,26.5 L733,22.4 L755.5,22.4 Q756.5,22.4 756.5,23.4 L756.5,29.6 Q756.5,30.6 755.5,30.6 L733,30.6 Z" fill="#fff" stroke="#333" stroke-width="1"/>
<text x="734.5" y="29.5" font-family="'Liberation Sans', Arial, sans-serif" font-size="8.6" font-weight="bold" fill="#000" textLength="19.8" lengthAdjust="spacingAndGlyphs">71.94</text>
<path d="M730.3,389.3 L733,385.5 L755.5,385.5 Q756.5,385.5 756.5,386.5 L756.5,392.1 Q756.5,393.1 755.5,393.1 L733,393.1 Z" fill="#fff" stroke="#333" stroke-width="1"/>
<text x="734.5" y="392.3" font-family="'Liberation Sans', Arial, sans-serif" font-size="8.6" font-weight="bold" fill="#000" textLength="19.8" lengthAdjust="spacingAndGlyphs">0.077</text>
<path d="M730.3,422.1 L733,418.3 L755.5,418.3 Q756.5,418.3 756.5,419.3 L756.5,424.9 Q756.5,425.9 755.5,425.9 L733,425.9 Z" fill="#fff" stroke="#5858b8" stroke-width="1"/>
<text x="733.9" y="425.1" font-family="'Liberation Sans', Arial, sans-serif" font-size="8.6" font-weight="normal" fill="#222" textLength="19.6" lengthAdjust="spacingAndGlyphs">0.040</text>
<line x1="19.5" y1="449.5" x2="19.5" y2="451.5" stroke="#9a9ea6" stroke-width="0.8"/>
<text x="19.5" y="457" text-anchor="middle" font-family="'DejaVu Sans', Verdana, sans-serif" font-size="7" fill="#111" stroke="#111" stroke-width="0.25">60</text>
<line x1="39.8" y1="449.5" x2="39.8" y2="451.5" stroke="#9a9ea6" stroke-width="0.8"/>
<text x="39.8" y="457" text-anchor="middle" font-family="'DejaVu Sans', Verdana, sans-serif" font-size="7" fill="#111" stroke="#111" stroke-width="0.25">62</text>
<line x1="60.0" y1="449.5" x2="60.0" y2="451.5" stroke="#9a9ea6" stroke-width="0.8"/>
<text x="60.0" y="457" text-anchor="middle" font-family="'DejaVu Sans', Verdana, sans-serif" font-size="7" fill="#111" stroke="#111" stroke-width="0.25">64</text>
<line x1="80.3" y1="449.5" x2="80.3" y2="451.5" stroke="#9a9ea6" stroke-width="0.8"/>
<text x="80.3" y="457" text-anchor="middle" font-family="'DejaVu Sans', Verdana, sans-serif" font-size="7" fill="#111" stroke="#111" stroke-width="0.25">66</text>
<line x1="100.5" y1="449.5" x2="100.5" y2="451.5" stroke="#9a9ea6" stroke-width="0.8"/>
<text x="100.5" y="457" text-anchor="middle" font-family="'DejaVu Sans', Verdana, sans-serif" font-size="7" fill="#111" stroke="#111" stroke-width="0.25">68</text>
<line x1="120.8" y1="449.5" x2="120.8" y2="451.5" stroke="#9a9ea6" stroke-width="0.8"/>
<text x="120.8" y="457" text-anchor="middle" font-family="'DejaVu Sans', Verdana, sans-serif" font-size="7" fill="#111" stroke="#111" stroke-width="0.25">70</text>
<line x1="141.1" y1="449.5" x2="141.1" y2="451.5" stroke="#9a9ea6" stroke-width="0.8"/>
<text x="141.1" y="457" text-anchor="middle" font-family="'DejaVu Sans', Verdana, sans-serif" font-size="7" fill="#111" stroke="#111" stroke-width="0.25">72</text>
<line x1="161.3" y1="449.5" x2="161.3" y2="451.5" stroke="#9a9ea6" stroke-width="0.8"/>
<text x="161.3" y="457" text-anchor="middle" font-family="'DejaVu Sans', Verdana, sans-serif" font-size="7" fill="#111" stroke="#111" stroke-width="0.25">74</text>
<line x1="181.6" y1="449.5" x2="181.6" y2="451.5" stroke="#9a9ea6" stroke-width="0.8"/>
<text x="181.6" y="457" text-anchor="middle" font-family="'DejaVu Sans', Verdana, sans-serif" font-size="7" fill="#111" stroke="#111" stroke-width="0.25">76</text>
<line x1="201.8" y1="449.5" x2="201.8" y2="451.5" stroke="#9a9ea6" stroke-width="0.8"/>
<text x="201.8" y="457" text-anchor="middle" font-family="'DejaVu Sans', Verdana, sans-serif" font-size="7" fill="#111" stroke="#111" stroke-width="0.25">78</text>
<line x1="222.1" y1="449.5" x2="222.1" y2="451.5" stroke="#9a9ea6" stroke-width="0.8"/>
<text x="222.1" y="457" text-anchor="middle" font-family="'DejaVu Sans', Verdana, sans-serif" font-size="7" fill="#111" stroke="#111" stroke-width="0.25">80</text>
<line x1="242.4" y1="449.5" x2="242.4" y2="451.5" stroke="#9a9ea6" stroke-width="0.8"/>
<text x="242.4" y="457" text-anchor="middle" font-family="'DejaVu Sans', Verdana, sans-serif" font-size="7" fill="#111" stroke="#111" stroke-width="0.25">82</text>
<line x1="262.6" y1="449.5" x2="262.6" y2="451.5" stroke="#9a9ea6" stroke-width="0.8"/>
<text x="262.6" y="457" text-anchor="middle" font-family="'DejaVu Sans', Verdana, sans-serif" font-size="7" fill="#111" stroke="#111" stroke-width="0.25">84</text>
<line x1="282.9" y1="449.5" x2="282.9" y2="451.5" stroke="#9a9ea6" stroke-width="0.8"/>
<text x="282.9" y="457" text-anchor="middle" font-family="'DejaVu Sans', Verdana, sans-serif" font-size="7" fill="#111" stroke="#111" stroke-width="0.25">86</text>
<line x1="303.1" y1="449.5" x2="303.1" y2="451.5" stroke="#9a9ea6" stroke-width="0.8"/>
<text x="303.1" y="457" text-anchor="middle" font-family="'DejaVu Sans', Verdana, sans-serif" font-size="7" fill="#111" stroke="#111" stroke-width="0.25">88</text>
<line x1="323.4" y1="449.5" x2="323.4" y2="451.5" stroke="#9a9ea6" stroke-width="0.8"/>
<text x="323.4" y="457" text-anchor="middle" font-family="'DejaVu Sans', Verdana, sans-serif" font-size="7" fill="#111" stroke="#111" stroke-width="0.25">90</text>
<line x1="343.7" y1="449.5" x2="343.7" y2="451.5" stroke="#9a9ea6" stroke-width="0.8"/>
<text x="343.7" y="457" text-anchor="middle" font-family="'DejaVu Sans', Verdana, sans-serif" font-size="7" fill="#111" stroke="#111" stroke-width="0.25">92</text>
<line x1="363.9" y1="449.5" x2="363.9" y2="451.5" stroke="#9a9ea6" stroke-width="0.8"/>
<text x="363.9" y="457" text-anchor="middle" font-family="'DejaVu Sans', Verdana, sans-serif" font-size="7" fill="#111" stroke="#111" stroke-width="0.25">94</text>
<line x1="384.2" y1="449.5" x2="384.2" y2="451.5" stroke="#9a9ea6" stroke-width="0.8"/>
<text x="384.2" y="457" text-anchor="middle" font-family="'DejaVu Sans', Verdana, sans-serif" font-size="7" fill="#111" stroke="#111" stroke-width="0.25">96</text>
<line x1="404.4" y1="449.5" x2="404.4" y2="451.5" stroke="#9a9ea6" stroke-width="0.8"/>
<text x="404.4" y="457" text-anchor="middle" font-family="'DejaVu Sans', Verdana, sans-serif" font-size="7" fill="#111" stroke="#111" stroke-width="0.25">98</text>
<line x1="424.7" y1="449.5" x2="424.7" y2="451.5" stroke="#9a9ea6" stroke-width="0.8"/>
<text x="424.7" y="457" text-anchor="middle" font-family="'DejaVu Sans', Verdana, sans-serif" font-size="7" fill="#111" stroke="#111" stroke-width="0.25">00</text>
<line x1="445.0" y1="449.5" x2="445.0" y2="451.5" stroke="#9a9ea6" stroke-width="0.8"/>
<text x="445.0" y="457" text-anchor="middle" font-family="'DejaVu Sans', Verdana, sans-serif" font-size="7" fill="#111" stroke="#111" stroke-width="0.25">02</text>
<line x1="465.2" y1="449.5" x2="465.2" y2="451.5" stroke="#9a9ea6" stroke-width="0.8"/>
<text x="465.2" y="457" text-anchor="middle" font-family="'DejaVu Sans', Verdana, sans-serif" font-size="7" fill="#111" stroke="#111" stroke-width="0.25">04</text>
<line x1="485.5" y1="449.5" x2="485.5" y2="451.5" stroke="#9a9ea6" stroke-width="0.8"/>
<text x="485.5" y="457" text-anchor="middle" font-family="'DejaVu Sans', Verdana, sans-serif" font-size="7" fill="#111" stroke="#111" stroke-width="0.25">06</text>
<line x1="505.7" y1="449.5" x2="505.7" y2="451.5" stroke="#9a9ea6" stroke-width="0.8"/>
<text x="505.7" y="457" text-anchor="middle" font-family="'DejaVu Sans', Verdana, sans-serif" font-size="7" fill="#111" stroke="#111" stroke-width="0.25">08</text>
<line x1="526.0" y1="449.5" x2="526.0" y2="451.5" stroke="#9a9ea6" stroke-width="0.8"/>
<text x="526.0" y="457" text-anchor="middle" font-family="'DejaVu Sans', Verdana, sans-serif" font-size="7" fill="#111" stroke="#111" stroke-width="0.25">10</text>
<line x1="546.3" y1="449.5" x2="546.3" y2="451.5" stroke="#9a9ea6" stroke-width="0.8"/>
<text x="546.3" y="457" text-anchor="middle" font-family="'DejaVu Sans', Verdana, sans-serif" font-size="7" fill="#111" stroke="#111" stroke-width="0.25">12</text>
<line x1="566.5" y1="449.5" x2="566.5" y2="451.5" stroke="#9a9ea6" stroke-width="0.8"/>
<text x="566.5" y="457" text-anchor="middle" font-family="'DejaVu Sans', Verdana, sans-serif" font-size="7" fill="#111" stroke="#111" stroke-width="0.25">14</text>
<line x1="586.8" y1="449.5" x2="586.8" y2="451.5" stroke="#9a9ea6" stroke-width="0.8"/>
<text x="586.8" y="457" text-anchor="middle" font-family="'DejaVu Sans', Verdana, sans-serif" font-size="7" fill="#111" stroke="#111" stroke-width="0.25">16</text>
<line x1="607.0" y1="449.5" x2="607.0" y2="451.5" stroke="#9a9ea6" stroke-width="0.8"/>
<text x="607.0" y="457" text-anchor="middle" font-family="'DejaVu Sans', Verdana, sans-serif" font-size="7" fill="#111" stroke="#111" stroke-width="0.25">18</text>
<line x1="627.3" y1="449.5" x2="627.3" y2="451.5" stroke="#9a9ea6" stroke-width="0.8"/>
<text x="627.3" y="457" text-anchor="middle" font-family="'DejaVu Sans', Verdana, sans-serif" font-size="7" fill="#111" stroke="#111" stroke-width="0.25">20</text>
<line x1="647.6" y1="449.5" x2="647.6" y2="451.5" stroke="#9a9ea6" stroke-width="0.8"/>
<text x="647.6" y="457" text-anchor="middle" font-family="'DejaVu Sans', Verdana, sans-serif" font-size="7" fill="#111" stroke="#111" stroke-width="0.25">22</text>
<line x1="667.8" y1="449.5" x2="667.8" y2="451.5" stroke="#9a9ea6" stroke-width="0.8"/>
<text x="667.8" y="457" text-anchor="middle" font-family="'DejaVu Sans', Verdana, sans-serif" font-size="7" fill="#111" stroke="#111" stroke-width="0.25">24</text>
<line x1="688.1" y1="449.5" x2="688.1" y2="451.5" stroke="#9a9ea6" stroke-width="0.8"/>
<text x="688.1" y="457" text-anchor="middle" font-family="'DejaVu Sans', Verdana, sans-serif" font-size="7" fill="#111" stroke="#111" stroke-width="0.25">26</text>
<line x1="708.3" y1="449.5" x2="708.3" y2="451.5" stroke="#9a9ea6" stroke-width="0.8"/>
<text x="708.3" y="457" text-anchor="middle" font-family="'DejaVu Sans', Verdana, sans-serif" font-size="7" fill="#111" stroke="#111" stroke-width="0.25">28</text>
<text x="12.2" y="10.5" font-family="'Liberation Sans', Arial, sans-serif" font-size="10.6" font-weight="bold" fill="#111" textLength="131.4" lengthAdjust="spacingAndGlyphs">@SILVERHIS:@SIXTYFORT</text>
<text x="147.1" y="10.2" font-family="'Liberation Sans', Arial, sans-serif" font-size="8.6" font-weight="normal" fill="#111" textLength="230.5" lengthAdjust="spacingAndGlyphs">Silver Historical Data/Historical Data of 60-40 Portfolio (private)</text>
<text x="382.1" y="9.8" font-family="'DejaVu Sans', Verdana, sans-serif" font-size="6.8" font-weight="normal" fill="#111" textLength="31.3" lengthAdjust="spacingAndGlyphs">UserData</text>
<text stroke="#111" stroke-width="0.25" x="12.2" y="19.9" font-family="'DejaVu Sans', Verdana, sans-serif" font-size="7.6" font-weight="normal" fill="#111" textLength="47.3" lengthAdjust="spacingAndGlyphs">24-Dec-2025</text>
<text x="663.3" y="9.8" font-family="'DejaVu Sans', Verdana, sans-serif" font-size="7.8" font-weight="normal" fill="#5e5e5e" textLength="68.6" lengthAdjust="spacingAndGlyphs">©StockCharts.com</text>
<text x="445.9" y="20.2" font-family="'Liberation Sans', Arial, sans-serif" font-size="8.7" font-weight="bold" fill="#111" textLength="21.9" lengthAdjust="spacingAndGlyphs">Open</text>
<text x="470.5" y="20.2" font-family="'Liberation Sans', Arial, sans-serif" font-size="8" font-weight="normal" fill="#111" textLength="19.8" lengthAdjust="spacingAndGlyphs">0.061</text>
<text x="495.8" y="20.2" font-family="'Liberation Sans', Arial, sans-serif" font-size="8.7" font-weight="bold" fill="#111" textLength="17.9" lengthAdjust="spacingAndGlyphs">High</text>
<text x="516.6" y="20.2" font-family="'Liberation Sans', Arial, sans-serif" font-size="8" font-weight="normal" fill="#111" textLength="20.0" lengthAdjust="spacingAndGlyphs">0.077</text>
<text x="541.8" y="20.2" font-family="'Liberation Sans', Arial, sans-serif" font-size="8.7" font-weight="bold" fill="#111" textLength="17.7" lengthAdjust="spacingAndGlyphs">Low</text>
<text x="562.6" y="20.2" font-family="'Liberation Sans', Arial, sans-serif" font-size="8" font-weight="normal" fill="#111" textLength="20.3" lengthAdjust="spacingAndGlyphs">0.060</text>
<text x="588.0" y="20.2" font-family="'Liberation Sans', Arial, sans-serif" font-size="8.7" font-weight="bold" fill="#111" textLength="23.7" lengthAdjust="spacingAndGlyphs">Close</text>
<text x="614.6" y="20.2" font-family="'Liberation Sans', Arial, sans-serif" font-size="8" font-weight="normal" fill="#111" textLength="20.3" lengthAdjust="spacingAndGlyphs">0.077</text>
<text x="640.3" y="20.2" font-family="'Liberation Sans', Arial, sans-serif" font-size="8.7" font-weight="bold" fill="#111" textLength="16.6" lengthAdjust="spacingAndGlyphs">Chg</text>
<text x="659.4" y="20.2" font-family="'Liberation Sans', Arial, sans-serif" font-size="8" font-weight="normal" fill="#111" textLength="64.8" lengthAdjust="spacingAndGlyphs">+0.016 (+25.66%)</text>
<path d="M727,19 L729.5,16.3 L732,19 Z" fill="#999"/>
<rect x="16.6" y="26.2" width="3" height="2.4" fill="#a8a8a8"/><path d="M15.5,23.8 v4.4 M15.5,27 h1.5 M20.5,23.8 v4.8 M20.5,26.4 h1.2" stroke="#222" stroke-width="1.1" fill="none"/><ellipse cx="18" cy="29.3" rx="1" ry="0.8" fill="#222"/>
<text x="23.5" y="30.4" font-family="'DejaVu Sans', Verdana, sans-serif" font-size="7.5" font-weight="normal" fill="#222" textLength="120.8" lengthAdjust="spacingAndGlyphs">@SILVERHIS 71.94 (24 Dec)</text>
<text x="25.9" y="60.4" font-family="'Liberation Sans', Arial, sans-serif" font-size="16" font-weight="normal" fill="#000" textLength="40.3" lengthAdjust="spacingAndGlyphs">Silver</text>
<line x1="14.6" y1="203.1" x2="21.4" y2="203.1" stroke="#000" stroke-width="1.6"/>
<text x="24.3" y="206.4" font-family="'DejaVu Sans', Verdana, sans-serif" font-size="7.5" font-weight="normal" fill="#222" textLength="224.0" lengthAdjust="spacingAndGlyphs">@SILVERHIS:@SIXTYFORT (Monthly) 0.077 (24 Dec)</text>
<line x1="14.6" y1="211.1" x2="21.4" y2="211.1" stroke="#2e2e8c" stroke-width="1.6"/>
<text x="22.9" y="214.2" font-family="'DejaVu Sans', Verdana, sans-serif" font-size="7.5" font-weight="normal" fill="#2e2e8c" textLength="44.8" lengthAdjust="spacingAndGlyphs">MA(40) 0.040</text></svg>
</body></html>
